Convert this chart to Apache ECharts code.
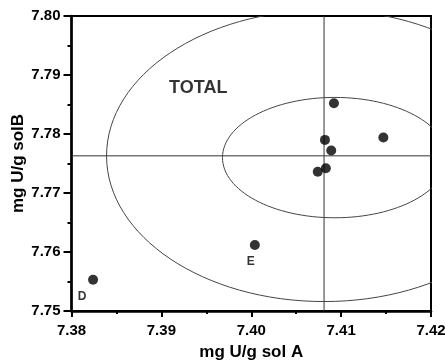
<!DOCTYPE html>
<html><head><meta charset="utf-8">
<script src="https://cdn.jsdelivr.net/npm/echarts@6/dist/echarts.min.js"></script>
<style>html,body{margin:0;padding:0;background:#fff}#c{width:445px;height:361px}</style>
</head><body><div id="c"></div>
<script>
// Data
const pointLabels = ['D', 'E', '', '', '', '', '', ''];
const solA = [7.3824, 7.4004, 7.4092, 7.4082, 7.4089, 7.4083, 7.4074, 7.4147];
const solB = [7.7553, 7.7612, 7.7852, 7.7790, 7.7772, 7.7742, 7.7736, 7.7794];
const meanA = 7.4081;
const meanB = 7.7763;
// ellipses: [centerA, centerB, semiAxisA, semiAxisB]
const ellipseCenterA = [7.4081, 7.4093];
const ellipseCenterB = [7.7763, 7.7760];
const ellipseSemiA = [0.0242, 0.0125];
const ellipseSemiB = [0.0247, 0.0102];
const totalLabel = ['TOTAL', 7.3941, 7.7878];
const xTicks = [7.38, 7.39, 7.40, 7.41, 7.42];
const yTicks = [7.75, 7.76, 7.77, 7.78, 7.79, 7.80];

const FONT = '"Liberation Sans", Arial, sans-serif';
const chart = echarts.init(document.getElementById('c'), null, {renderer: 'canvas'});
const ellipseData = ellipseCenterA.map((a, i) => [a, ellipseCenterB[i], ellipseSemiA[i], ellipseSemiB[i]]);
const pts = solA.map((a, i) => ({value: [a, solB[i]], label: {formatter: pointLabels[i]}}));
pts[0].label.offset = [-11, 1];
pts[1].label.offset = [-4, 1];
const yMin = yTicks[0], yMax = yTicks[yTicks.length - 1];
const xMin = xTicks[0], xMax = xTicks[xTicks.length - 1];

chart.setOption({
  animation: false,
  grid: {left: 71.5, right: 14, top: 16, bottom: 50, containLabel: false, outerBoundsMode: 'none',
    show: true, borderColor: '#000', borderWidth: 2, backgroundColor: 'transparent'},
  xAxis: {
    type: 'value', min: xMin, max: xMax, interval: 0.01,
    name: 'mg U/g sol A', nameLocation: 'middle', nameGap: 33, nameMoveOverlap: false,
    nameTextStyle: {fontFamily: FONT, fontWeight: 'bold', fontSize: 17, color: '#000'},
    axisLine: {lineStyle: {color: '#000', width: 2.5}},
    axisTick: {show: true, length: 6, lineStyle: {color: '#000', width: 2}},
    minorTick: {show: true, splitNumber: 2, length: 3, lineStyle: {color: '#000', width: 2}},
    splitLine: {show: false},
    axisLabel: {margin: 12, fontFamily: FONT, fontWeight: 'bold', fontSize: 15, color: '#000', formatter: v => v.toFixed(2)}
  },
  yAxis: {
    type: 'value', min: yMin, max: yMax, interval: 0.01,
    name: 'mg U/g solB', nameLocation: 'middle', nameGap: 45, nameMoveOverlap: false,
    nameTextStyle: {fontFamily: FONT, fontWeight: 'bold', fontSize: 17, color: '#000'},
    axisLine: {lineStyle: {color: '#000', width: 2.5}},
    axisTick: {show: true, length: 8, lineStyle: {color: '#000', width: 2}},
    minorTick: {show: true, splitNumber: 2, length: 4, lineStyle: {color: '#000', width: 2}},
    splitLine: {show: false},
    axisLabel: {margin: 11, fontFamily: FONT, fontWeight: 'bold', fontSize: 15, color: '#000', formatter: v => v.toFixed(2)}
  },
  series: [
    {
      type: 'custom', clip: true, silent: true,
      data: ellipseData,
      renderItem: function (params, api) {
        const c = api.coord([api.value(0), api.value(1)]);
        const s = api.size([api.value(2), api.value(3)]);
        return {type: 'ellipse', shape: {cx: c[0], cy: c[1], rx: s[0], ry: s[1]},
          style: {fill: null, stroke: '#444', lineWidth: 1}};
      }
    },
    {
      type: 'line', silent: true, symbol: 'none',
      lineStyle: {color: '#333', width: 1},
      data: [[meanA, yMin], [meanA, yMax]]
    },
    {
      type: 'line', silent: true, symbol: 'none',
      lineStyle: {color: '#333', width: 1},
      data: [[xMin, meanB], [xMax, meanB]]
    },
    {
      type: 'scatter', symbol: 'circle', symbolSize: 10,
      itemStyle: {color: '#000'},
      label: {show: true, position: 'bottom', fontFamily: FONT, fontWeight: 'bold', fontSize: 12, color: '#000'},
      data: pts, z: 5
    },
    {
      type: 'scatter', symbolSize: 0, silent: true,
      label: {show: true, position: 'inside', formatter: totalLabel[0], fontFamily: FONT, fontWeight: 'bold', fontSize: 18, color: '#000'},
      data: [[totalLabel[1], totalLabel[2]]]
    }
  ]
});
</script></body></html>
